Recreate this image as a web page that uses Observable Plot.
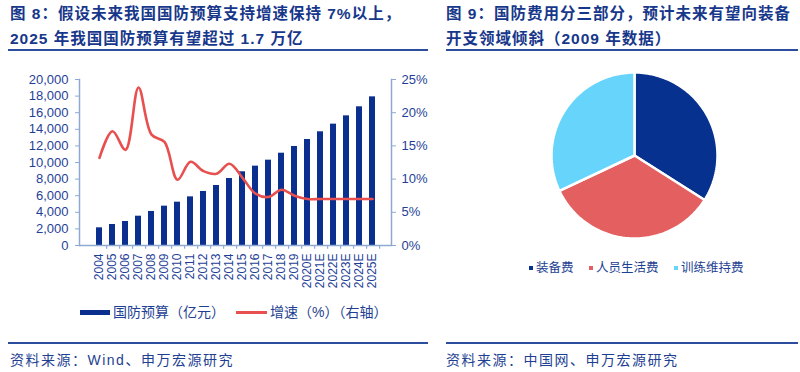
<!DOCTYPE html>
<html><head><meta charset="utf-8">
<script src="https://cdn.jsdelivr.net/npm/d3@7"></script>
<script src="https://cdn.jsdelivr.net/npm/@observablehq/plot@0.6"></script>
<style>
body{margin:0;background:#fff;}
#root{position:relative;width:800px;height:372px;overflow:hidden;font-family:"Liberation Sans","Noto Sans CJK SC",sans-serif;color:#1b3a8c;}
.abs{position:absolute;white-space:nowrap;line-height:1;}
.title{font-weight:bold;font-size:15.5px;letter-spacing:1px;color:#17378a;}
.rule{position:absolute;height:2px;background:#2c4c9e;}
.foot{font-size:14px;letter-spacing:1.5px;color:#1e3f92;}
.leg{font-size:14px;color:#1e3f92;}
.leg2{font-size:12.5px;color:#1e3f92;}
svg{position:absolute;}
</style></head>
<body><div id="root">
<div class="abs title" style="left:10px;top:6px">图 8：假设未来我国国防预算支持增速保持 7%以上，</div>
<div class="abs title" style="left:10px;top:31px">2025 年我国国防预算有望超过 1.7 万亿</div>
<div class="rule" style="left:8px;top:49px;width:420px"></div>
<div class="abs title" style="left:446px;top:6px">图 9：国防费用分三部分，预计未来有望向装备</div>
<div class="abs title" style="left:446px;top:31px">开支领域倾斜（2009 年数据）</div>
<div class="rule" style="left:446px;top:49px;width:352px"></div>
<div class="rule" style="left:8px;top:342px;width:420px"></div>
<div class="rule" style="left:446px;top:342px;width:352px"></div>
<div class="abs foot" style="left:10px;top:353px">资料来源：Wind、申万宏源研究</div>
<div class="abs foot" style="left:446px;top:353px">资料来源：中国网、申万宏源研究</div>
<div id="leftLegend"></div>
<div id="rightLegend"></div>
</div>
<script>
const years = ["2004","2005","2006","2007","2008","2009","2010","2011","2012","2013","2014","2015","2016","2017","2018","2019","2020E","2021E","2022E","2023E","2024E","2025E"];
const budget = [2130,2530,2890,3530,4100,4740,5220,5860,6510,7230,8070,8880,9560,10280,11120,11930,12770,13700,14620,15620,16710,17910];
const growth = [13.2,17.2,14.4,23.8,16.7,15.6,9.9,12.6,11.2,10.8,12.3,10.2,7.8,7.3,8.4,7.5,7.0,7.0,7.0,7.0,7.0,7.0];
const leftTicks = [0,2000,4000,6000,8000,10000,12000,14000,16000,18000,20000];
const rightTicks = [0,5,10,15,20,25];
const seriesNames = ["国防预算（亿元）","增速（%）（右轴）"];
const pieLabels = ["装备费","人员生活费","训练维持费"];
const pieShares = [34,34,32];

const barColor = "#0a2f8f", lineColor = "#e8504f", axisColor = "#8eaad2", textColor = "#1f3f97";
const pieColors = ["#06318f","#e35f60","#66d4fb"];
const font = '"Liberation Sans","Noto Sans CJK SC",sans-serif';
const root = document.getElementById("root");

// left chart
const ratio = leftTicks[leftTicks.length-1] / rightTicks[rightTicks.length-1];
const rows = years.map((y,i)=>({year:y, budget:budget[i], g:growth[i]*ratio}));
const W = 430, mL = 79, mR = 39;
const halfBand = (W - mL - mR) / years.length / 2;
const left = Plot.plot({
  width:W, height:240, marginLeft:mL, marginRight:mR, marginTop:19, marginBottom:55,
  style:{fontFamily:font, fontSize:"13px", color:textColor, background:"transparent", overflow:"visible"},
  x:{domain:years, padding:0.56, label:null},
  y:{domain:[0,20000], label:null},
  marks:[
    Plot.barY(rows,{x:"year", y:"budget", fill:barColor}),
    Plot.line(rows,{x:"year", y:"g", stroke:lineColor, strokeWidth:2.6, curve:"catmull-rom"}),
    Plot.ruleY([0],{stroke:axisColor, strokeWidth:1.5}),
    Plot.frame({anchor:"left", stroke:axisColor, strokeWidth:1.5}),
    Plot.frame({anchor:"right", stroke:axisColor, strokeWidth:1.5}),
    Plot.ruleX(years,{x:d=>d, y1:0, y2:-450, dx:halfBand, stroke:axisColor, strokeWidth:1.2}),
    Plot.axisY(leftTicks,{anchor:"left", tickFormat:d3.format(","), tickSize:4, tickPadding:7, stroke:axisColor, fill:textColor, label:null, fontSize:13}),
    Plot.axisY(rightTicks.map(v=>v*ratio),{anchor:"right", tickFormat:d=>Math.round(d/ratio)+"%", tickSize:4, tickPadding:6, stroke:axisColor, fill:textColor, label:null, fontSize:13}),
    Plot.axisX({tickSize:0, tickRotate:-90, tickPadding:8, fill:textColor, label:null, fontSize:12})
  ]
});
left.style.left = "0px"; left.style.top = "60px";
root.appendChild(left);

// legend left
const ll = document.getElementById("leftLegend");
ll.innerHTML = `<div class="abs" style="left:80px;top:310px;width:30px;height:5px;background:${barColor}"></div>
<div class="abs leg" style="left:113px;top:305px">${seriesNames[0]}</div>
<div class="abs" style="left:236px;top:311px;width:31px;height:2.5px;background:${lineColor}"></div>
<div class="abs leg" style="left:270px;top:305px">${seriesNames[1]}</div>`;

// pie via Plot lines with fill
const total = d3.sum(pieShares);
let acc = 0;
const pieMarks = [];
pieLabels.forEach((name,i)=>{
  const a0 = acc/total*2*Math.PI; acc += pieShares[i]; const a1 = acc/total*2*Math.PI;
  const pts = [{x:0,y:0}];
  const n = 80;
  for (let k=0;k<=n;k++){ const a = a0+(a1-a0)*k/n; pts.push({x:Math.sin(a), y:Math.cos(a)}); }
  pts.push({x:0,y:0});
  pieMarks.push(Plot.line(pts,{x:"x", y:"y", fill:pieColors[i], stroke:"white", strokeWidth:2.5, strokeLinejoin:"round", curve:"linear"}));
});
const pie = Plot.plot({
  width:180, height:180, margin:7,
  x:{domain:[-1,1], axis:null}, y:{domain:[-1,1], axis:null},
  style:{background:"transparent", overflow:"visible"},
  marks:pieMarks
});
pie.style.left = "544px"; pie.style.top = "65px";
root.appendChild(pie);

const rl = document.getElementById("rightLegend");
const lx = [[529,536],[589,596],[674,681]];
rl.innerHTML = pieLabels.map((n,i)=>`<div class="abs" style="left:${lx[i][0]}px;top:266px;width:4px;height:4px;background:${pieColors[i]}"></div><div class="abs leg2" style="left:${lx[i][1]}px;top:262px">${n}</div>`).join("");
</script>
</body></html>
